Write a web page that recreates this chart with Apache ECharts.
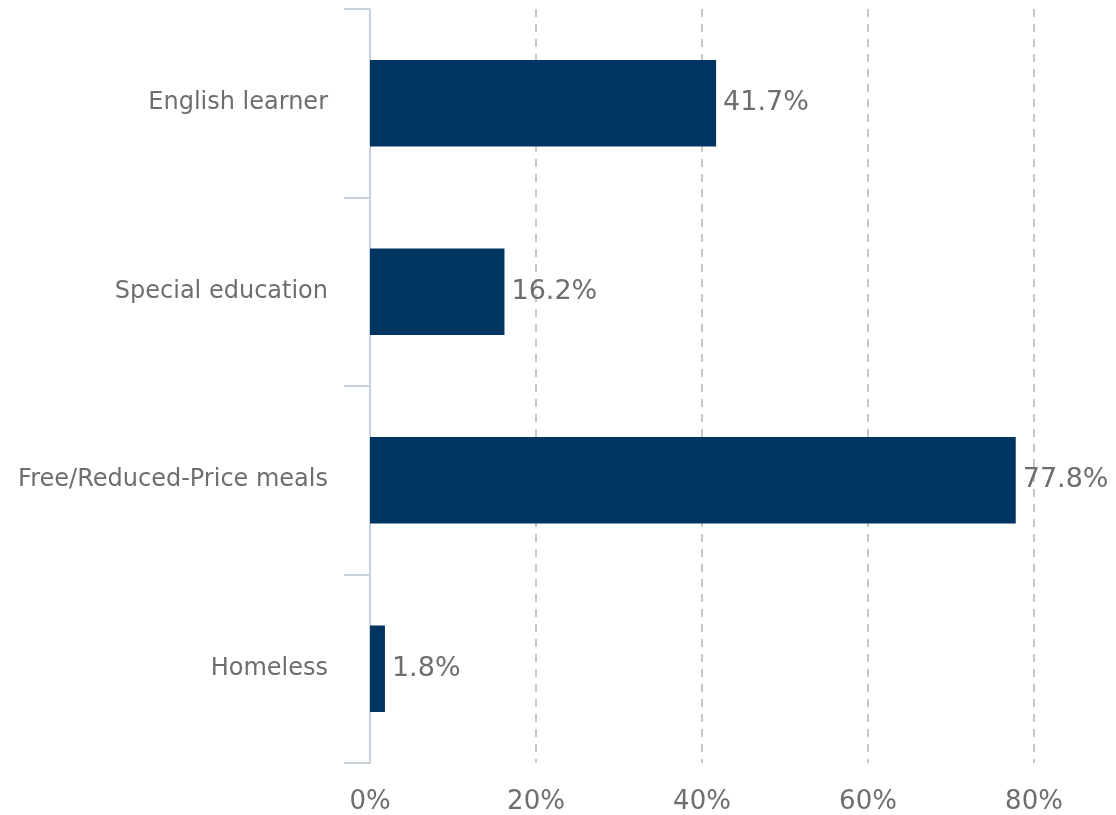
<!DOCTYPE html>
<html><head><meta charset="utf-8">
<script src="https://cdn.jsdelivr.net/npm/echarts@6/dist/echarts.min.js"></script>
<style>html,body{margin:0;padding:0;background:#fff}#c{width:1116px;height:815px}</style>
</head><body><div id="c"></div>
<script>
const categories = ["English learner", "Special education", "Free/Reduced-Price meals", "Homeless"];
const values = [41.7, 16.2, 77.8, 1.8];
const tickLabels = ["0%", "20%", "40%", "60%", "80%"];

const chart = echarts.init(document.getElementById('c'), null, {renderer: 'canvas'});
chart.setOption({
  animation: false,
  backgroundColor: '#ffffff',
  grid: {left: 370, right: 82, top: 9, bottom: 52, containLabel: false},
  xAxis: {
    type: 'value', min: 0, max: 80, interval: 20,
    axisLine: {show: false}, axisTick: {show: false},
    axisLabel: {
      color: '#6e6e6e', fontFamily: 'DejaVu Sans', fontSize: 26, margin: 26,
      formatter: v => tickLabels[v / 20]
    },
    splitLine: {show: true, lineStyle: {color: '#c8c8c8', type: [8, 7], width: 2}}
  },
  yAxis: {
    type: 'category', data: categories, inverse: true,
    axisLine: {show: true, lineStyle: {color: '#c9d1dd', width: 2}},
    axisTick: {show: true, length: 26, lineStyle: {color: '#c9d1dd', width: 2}},
    axisLabel: {color: '#6e6e6e', fontFamily: 'DejaVu Sans', fontSize: 24, margin: 42},
    splitLine: {show: false}
  },
  series: [{
    type: 'bar', data: values, barWidth: '46%',
    itemStyle: {color: '#003562'},
    label: {show: true, position: 'right', distance: 7, color: '#6e6e6e',
      fontFamily: 'DejaVu Sans', fontSize: 27, formatter: p => p.value.toFixed(1) + '%'}
  }]
});
</script></body></html>
